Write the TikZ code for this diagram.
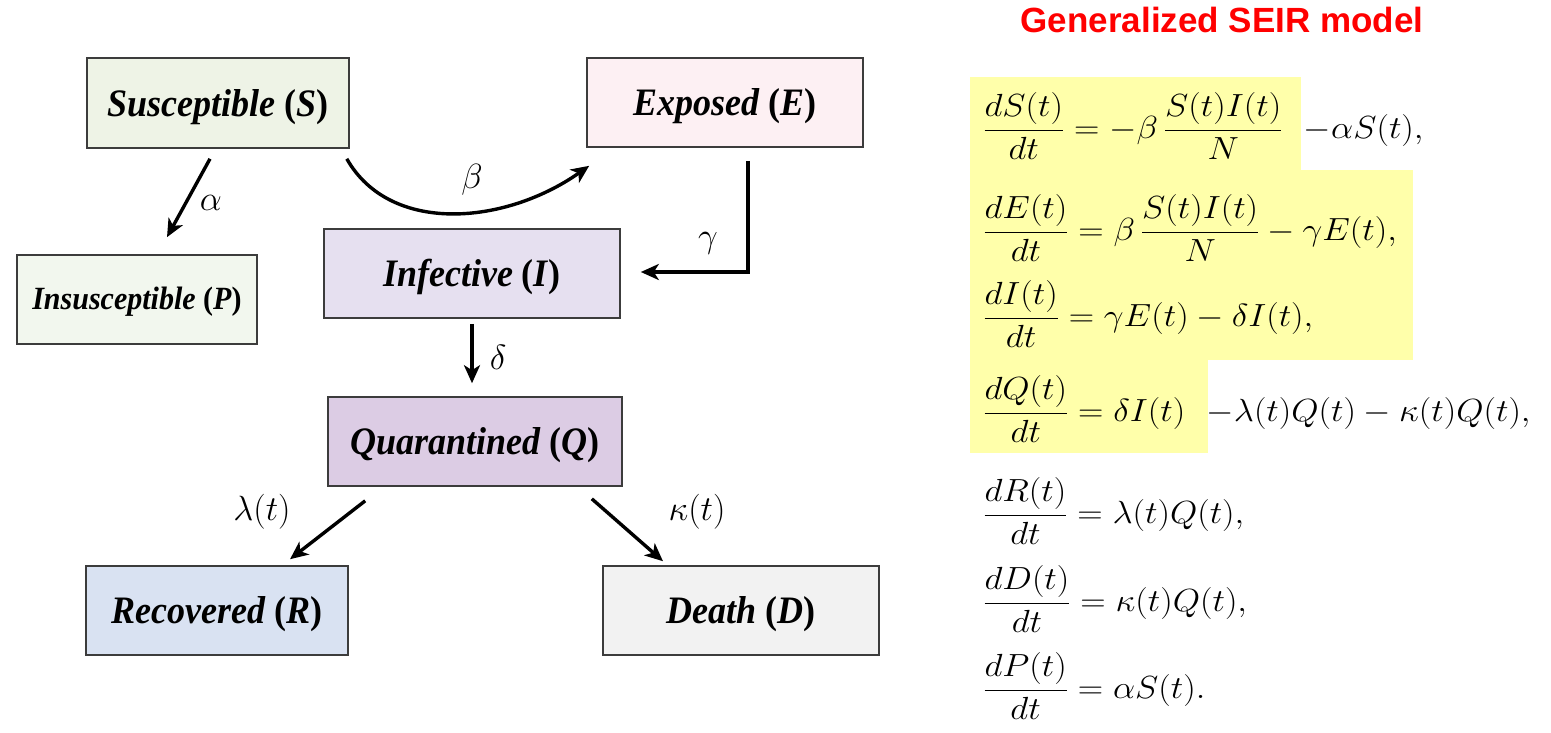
\RequirePackage{fix-cm}
\documentclass[tikz,border=0pt]{standalone}
\usepackage{fontspec}
\usepackage{amsmath}
\usepackage{graphicx}
\usetikzlibrary{arrows.meta,calc}
\newfontfamily\boxfont{Liberation Serif}
\newfontfamily\titlefont{Liberation Sans}
\definecolor{cS}{RGB}{238,243,230}
\definecolor{cE}{RGB}{253,240,243}
\definecolor{cP}{RGB}{242,247,238}
\definecolor{cI}{RGB}{230,224,240}
\definecolor{cQ}{RGB}{220,204,228}
\definecolor{cR}{RGB}{217,226,242}
\definecolor{cD}{RGB}{242,242,242}
\definecolor{hl}{RGB}{255,255,170}
\definecolor{edgegray}{RGB}{60,60,60}
\definecolor{titlered}{RGB}{255,0,0}
\tikzset{
  box/.style={draw=edgegray, line width=1.6pt, inner sep=0pt, align=center,
    text height=34pt, text depth=8pt,
    font=\boxfont\fontsize{36}{40}\selectfont\bfseries\itshape},
  smallbox/.style={text height=27pt, text depth=7pt,
    font=\boxfont\fontsize{30}{34}\selectfont\bfseries\itshape},
  flow/.style={line width=3.4pt, -{Stealth[length=18pt,width=16pt,inset=5pt]}},
  rate/.style={font=\fontsize{35}{40}\selectfont, inner sep=0pt},
  eqn/.style={anchor=base west, inner sep=0pt, font=\fontsize{32}{36}\selectfont},
  hlbox/.style={fill=hl, draw=none}
}
\newcommand{\pr}[1]{\textup{(}#1\textup{)}}
\newcommand{\bx}[1]{\scalebox{1}[1.08]{#1}}
\newcommand{\eqx}[1]{\scalebox{1.1}[1]{$\displaystyle #1$}}
\begin{document}
\begin{tikzpicture}[x=1pt,y=-1pt]
\fill[white] (0,0) rectangle (1551,732);
\useasboundingbox (0,0) rectangle (1551,732);

% boxes
\node[box, fill=cS, minimum width=262pt, minimum height=90pt] (S) at (218,103) {\bx{Susceptible \pr{S}}};
\node[box, fill=cE, minimum width=276pt, minimum height=89pt] (E) at (725,102.5) {\bx{Exposed \pr{E}}};
\node[box, smallbox, fill=cP, minimum width=240pt, minimum height=89pt] (P) at (137,299.5) {\bx{Insusceptible \pr{P}}};
\node[box, fill=cI, minimum width=296pt, minimum height=89pt] (I) at (472,273.5) {\bx{Infective \pr{I}}};
\node[box, fill=cQ, minimum width=294pt, minimum height=89pt] (Q) at (475,441.5) {\bx{Quarantined \pr{Q}}};
\node[box, fill=cR, minimum width=262pt, minimum height=89pt] (R) at (217,610.5) {\bx{Recovered \pr{R}}};
\node[box, fill=cD, minimum width=276pt, minimum height=89pt] (D) at (741,610.5) {\bx{Death \pr{D}}};

% connector end points
\coordinate (a1) at ($(S.south)+(-8,10)$);
\coordinate (a2) at ($(P.north)+(30,-17)$);
\coordinate (b1) at ($(S.south east)+(-3,10)$);
\coordinate (b2) at ($(E.south west)+(3,18)$);
\coordinate (g1) at ($(E.south)+(23,13)$);
\coordinate (g2) at ($(I.east)+(20,-1.5)$);
\coordinate (d1) at ($(I.south)+(0,5)$);
\coordinate (d2) at ($(Q.north)+(-3,-13)$);
\coordinate (l1) at ($(Q.south west)+(38,14)$);
\coordinate (l2) at ($(R.north)+(73,-6)$);
\coordinate (k1) at ($(Q.south east)+(-31,12)$);
\coordinate (k2) at ($(D.north)+(-78,-4)$);

\draw[flow] (a1) -- (a2);
\draw[flow] (b1) .. controls (390,235) and (505,225) .. (b2);
\draw[flow] (g1) |- (g2);
\draw[flow] (d1) -- (d1 |- d2);
\draw[flow] (l1) -- (l2);
\draw[flow] (k1) -- (k2);

% rate labels
\node[rate] (la) at (211,203) {$\alpha$};
\node[rate] (lb) at (472,180) {$\beta$};
\node[rate] (lg) at (708,243) {$\gamma$};
\node[rate] (ld) at (498,357) {$\delta$};
\node[rate] (ll) at (262,512) {$\lambda(t)$};
\node[rate] (lk) at (697,512) {$\kappa(t)$};

% title
\node[font=\titlefont\fontsize{35}{40}\selectfont\bfseries, text=titlered, inner sep=0pt] (title) at (1222,20) {Generalized SEIR model};

% highlights
\fill[hlbox] (970,77) rectangle (1301,170);
\fill[hlbox] (970,170) rectangle (1413,360);
\fill[hlbox] (970,360) rectangle (1208,453);

% equations
\node[eqn] (e1) at (983,138) {\eqx{\frac{dS(t)}{dt}=-\beta\,\frac{S(t)I(t)}{N}\ \ {-}\alpha S(t),}};
\node[eqn] (e2) at (983,240) {\eqx{\frac{dE(t)}{dt}=\beta\,\frac{S(t)I(t)}{N}-\gamma E(t),}};
\node[eqn] (e3) at (983,326) {\eqx{\frac{dI(t)}{dt}=\gamma E(t)-\delta I(t),}};
\node[eqn] (e4) at (983,421) {\eqx{\frac{dQ(t)}{dt}=\delta I(t)\ \ {-}\lambda(t)Q(t)-\kappa(t)Q(t),}};
\node[eqn] (e5) at (983,523) {\eqx{\frac{dR(t)}{dt}=\lambda(t)Q(t),}};
\node[eqn] (e6) at (983,611) {\eqx{\frac{dD(t)}{dt}=\kappa(t)Q(t),}};
\node[eqn] (e7) at (983,698) {\eqx{\frac{dP(t)}{dt}=\alpha S(t).}};
\end{tikzpicture}
\end{document}
